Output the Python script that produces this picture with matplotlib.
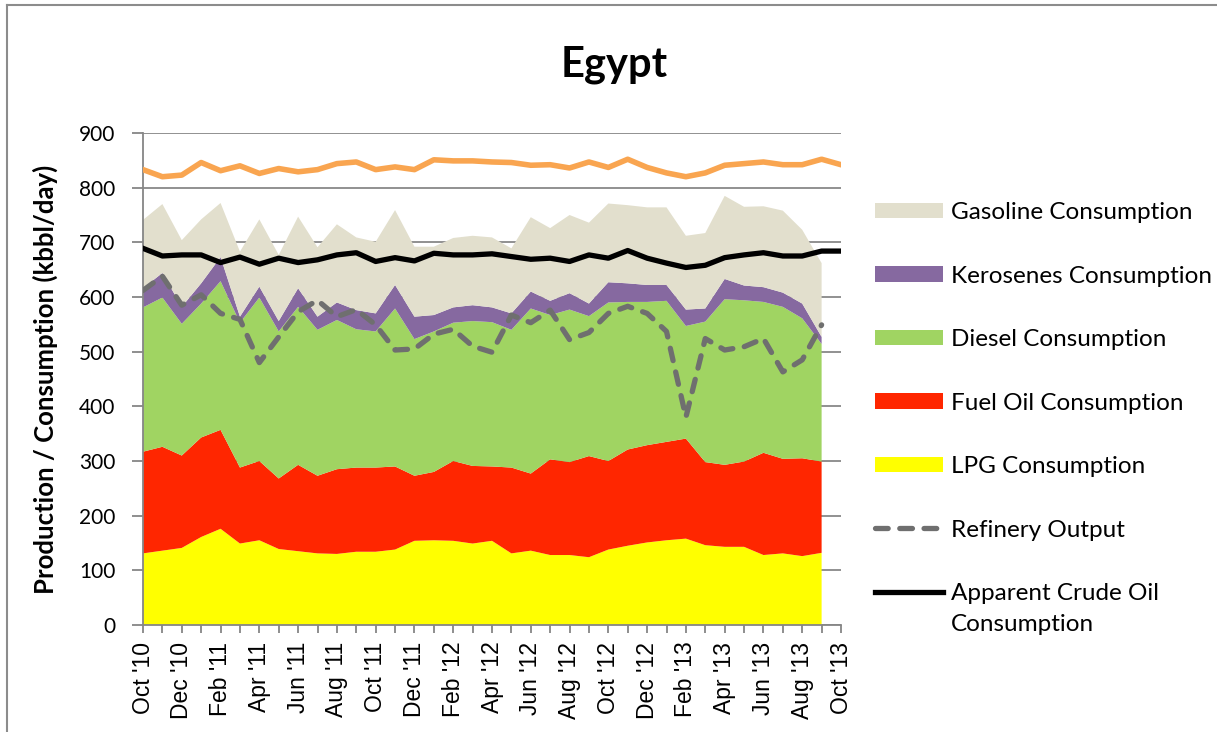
import matplotlib
matplotlib.use("Agg")
import matplotlib.pyplot as plt
import numpy as np
from matplotlib.lines import Line2D

plt.rcParams['font.family'] = ['Lato', 'DejaVu Sans']

# monthly data, Oct 2010 .. Oct 2013 (kbbl/day)
months = ["Oct '10", "Nov '10", "Dec '10", "Jan '11", "Feb '11", "Mar '11", "Apr '11",
          "May '11", "Jun '11", "Jul '11", "Aug '11", "Sep '11", "Oct '11", "Nov '11",
          "Dec '11", "Jan '12", "Feb '12", "Mar '12", "Apr '12", "May '12", "Jun '12",
          "Jul '12", "Aug '12", "Sep '12", "Oct '12", "Nov '12", "Dec '12", "Jan '13",
          "Feb '13", "Mar '13", "Apr '13", "May '13", "Jun '13", "Jul '13", "Aug '13",
          "Sep '13", "Oct '13"]

# consumption by product (Oct '10 .. Sep '13)
lpg = [131, 136, 141, 161, 176, 149, 155, 139, 135, 131, 130, 134, 134, 138, 154, 155, 154, 149,
       154, 131, 136, 128, 128, 124, 138, 145, 151, 155, 158, 146, 143, 143, 128, 131, 126, 132]
fuel_oil = [186, 190, 169, 182, 181, 139, 145, 129, 158, 142, 155, 154, 154, 152, 119, 125, 146, 142,
            136, 157, 141, 175, 170, 185, 162, 176, 178, 180, 183, 152, 150, 156, 187, 173, 179, 167]
diesel = [264, 273, 241, 245, 272, 265, 299, 269, 289, 267, 273, 253, 249, 289, 250, 257, 253, 265,
          264, 252, 302, 264, 279, 256, 290, 270, 262, 258, 206, 257, 303, 295, 276, 278, 256, 215]
kerosenes = [35, 45, 31, 37, 44, 11, 20, 19, 34, 24, 32, 35, 33, 43, 41, 30, 28, 29,
             27, 30, 31, 26, 30, 23, 37, 34, 31, 29, 30, 24, 37, 27, 27, 26, 27, 13]
gasoline = [125, 126, 122, 117, 99, 119, 123, 121, 131, 127, 143, 133, 131, 137, 128, 125, 127, 127,
            128, 119, 136, 133, 143, 148, 144, 143, 142, 142, 135, 138, 152, 144, 148, 150, 135, 135]

refinery_output = [612, 638, 585, 604, 570, 559, 480, 527, 573, 594, 564, 577, 549, 503, 505, 532, 541, 510,
                   499, 567, 553, 576, 522, 535, 570, 583, 570, 537, 380, 524, 503, 509, 524, 463, 485, 549]

# Oct '10 .. Oct '13
apparent_crude = [689, 675, 677, 677, 663, 673, 660, 671, 663, 668, 677, 681, 665, 672, 666, 680, 677, 677,
                  679, 674, 669, 671, 665, 677, 671, 685, 671, 662, 654, 658, 672, 677, 681, 675, 675, 684, 684]
crude_production = [833, 820, 823, 846, 831, 840, 826, 835, 829, 833, 844, 847, 833, 838, 833, 851, 849, 849,
                    847, 846, 841, 842, 836, 847, 837, 852, 837, 827, 820, 827, 841, 844, 847, 842, 842, 852, 842]

x_all = np.arange(len(months))
x_cons = x_all[:len(lpg)]

fig = plt.figure(figsize=(12.17, 7.32), dpi=100)
ax = fig.add_axes([143 / 1217, 1 - 625 / 732, 698 / 1217, 492 / 732])

areas = ax.stackplot(x_cons, lpg, fuel_oil, diesel, kerosenes, gasoline,
                     colors=['#FFFF00', '#FF2600', '#A0D462', '#8669A0', '#E2DFCD'],
                     linewidth=0, zorder=2)

line_ref, = ax.plot(x_cons, refinery_output, color='#6F6F6F', lw=3.8,
                    dashes=(2.4, 2.2), dash_capstyle='round', zorder=3)
line_crude, = ax.plot(x_all, apparent_crude, color='black', lw=3.8, zorder=4)
ax.plot(x_all, crude_production, color='#F9A550', lw=4, zorder=4)

ax.set_xlim(0, 36)
ax.set_ylim(0, 900)
ax.set_yticks(range(0, 901, 100))
ax.set_xticks(x_all, minor=True)
ax.set_xticks(x_all[::2])
ax.set_xticklabels(months[::2], rotation=90, fontsize=16.5, family=['Liberation Sans'])
ax.tick_params(axis='y', labelsize=15, length=8, width=1.3, color='#868686', pad=12)
ax.tick_params(axis='x', which='both', length=6, width=1.3, color='#868686', pad=6)

ax.grid(axis='y', color='#888888', lw=1.3, zorder=0)
ax.set_axisbelow(True)
for s in ['top', 'right']:
    ax.spines[s].set_visible(False)
for s in ['left', 'bottom']:
    ax.spines[s].set_color('#868686')
    ax.spines[s].set_linewidth(1.3)

ax.set_ylabel('Production / Consumption (kbbl/day)', fontsize=18.5, fontweight='bold', labelpad=15)
fig.text(0.505, 1 - 77 / 732, 'Egypt', ha='center', va='baseline', fontsize=30, fontweight='bold')

handles = [areas[4], areas[3], areas[2], areas[1], areas[0], line_ref, line_crude]
labels = ['Gasoline Consumption', 'Kerosenes Consumption', 'Diesel Consumption',
          'Fuel Oil Consumption', 'LPG Consumption', 'Refinery Output',
          'Apparent Crude Oil\nConsumption']
leg = ax.legend(handles, labels, loc='upper left', bbox_to_anchor=(875 / 1217, 1 - 202 / 732),
                bbox_transform=fig.transFigure, frameon=False, fontsize=17.5, borderpad=0,
                handlelength=2.8, handleheight=0.62, handletextpad=0.33, labelspacing=1.75,
                borderaxespad=0)
# put the crude oil handle next to the first line of its two-line label
leg.get_texts()[-1].set_linespacing(1.55)
crude_handle = leg.get_lines()[-1]
crude_handle.set_ydata(np.asarray(crude_handle.get_ydata()) + 12.5)

# chart frame
fig.add_artist(Line2D([7 / 1217, 7 / 1217], [0, 1 - 5 / 732], color='#8c8c8c', lw=1.5))
fig.add_artist(Line2D([7 / 1217, 1], [1 - 5 / 732, 1 - 5 / 732], color='#8c8c8c', lw=1.5))

fig.savefig('out.png', dpi=100)
